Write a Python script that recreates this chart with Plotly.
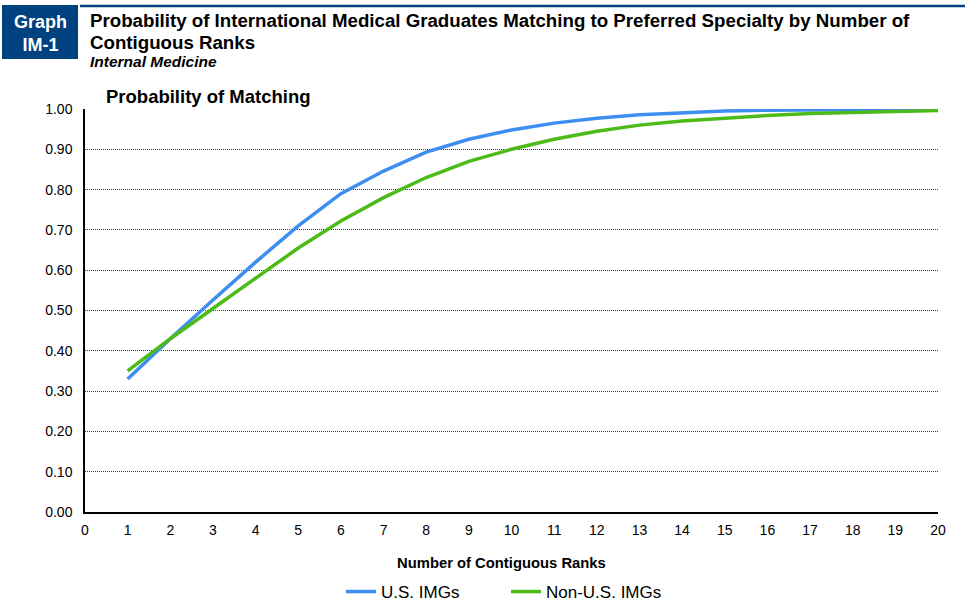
import plotly.graph_objects as go

ranks = list(range(1, 21))
us_imgs = [0.33, 0.43, 0.526, 0.62, 0.71, 0.79, 0.846, 0.893, 0.925, 0.948,
           0.965, 0.977, 0.986, 0.991, 0.995, 0.997, 0.998, 0.999, 0.999, 1.0]
non_us_imgs = [0.35, 0.43, 0.505, 0.58, 0.655, 0.722, 0.78, 0.83, 0.87, 0.90,
               0.925, 0.945, 0.96, 0.97, 0.978, 0.984, 0.989, 0.992, 0.994, 0.996]
x_ticks = list(range(0, 21))
y_ticks = [i / 10 for i in range(0, 11)]

fig = go.Figure()
fig.add_trace(go.Scatter(x=ranks, y=us_imgs, mode="lines", name="U.S. IMGs",
                         line=dict(color="#3d8ef0", width=3.5)))
fig.add_trace(go.Scatter(x=ranks, y=non_us_imgs, mode="lines", name="Non-U.S. IMGs",
                         line=dict(color="#4cbb17", width=3.5)))

font_family = "Liberation Sans, Arial, sans-serif"
L, R, T, B = 85, 27, 109, 95
PW = 965 - L - R
PH = 607 - T - B


def px_x(x):
    return (x - L) / PW


def px_y(y):
    return 1 - (y - T) / PH


fig.update_layout(
    width=965, height=607,
    margin=dict(l=L, r=R, t=T, b=B, autoexpand=False),
    paper_bgcolor="white", plot_bgcolor="white",
    font=dict(family=font_family, size=14, color="black"),
    showlegend=True,
    legend=dict(orientation="h", x=px_x(341), xanchor="left", y=px_y(592), yanchor="middle",
                font=dict(size=17, color="black"),
                traceorder="normal", entrywidthmode="pixels", entrywidth=120),
    xaxis=dict(range=[0, 20], tickvals=x_ticks, ticktext=[str(v) for v in x_ticks],
               showgrid=False, showline=True, linecolor="black", linewidth=1.5,
               ticks="", zeroline=False, tickfont=dict(size=14), automargin=False,
               ticklabelstandoff=4),
    yaxis=dict(range=[0, 1.0], tickvals=y_ticks, ticktext=[f"{v:.2f}" for v in y_ticks],
               showgrid=True, gridcolor="#3a3a3a", griddash="1px,1px", gridwidth=1,
               showline=True, linecolor="black", linewidth=1.5, automargin=False,
               ticks="", zeroline=False, tickfont=dict(size=14), ticklabelstandoff=8),
)

# Header box and top rule
fig.add_shape(type="rect", xref="paper", yref="paper",
              x0=px_x(2), x1=px_x(78), y0=px_y(59), y1=px_y(5),
              fillcolor="#00427f", line=dict(width=0), layer="above")
fig.add_shape(type="line", xref="paper", yref="paper",
              x0=px_x(80), x1=px_x(965), y0=px_y(6), y1=px_y(6),
              line=dict(color="#00427f", width=2.5))
fig.add_annotation(xref="paper", yref="paper", x=px_x(40), y=px_y(33),
                   text="<b>Graph<br>IM-1</b>", showarrow=False, align="center",
                   font=dict(size=18, color="white", family=font_family),
                   xanchor="center", yanchor="middle")
fig.add_annotation(xref="paper", yref="paper", x=px_x(88), y=px_y(21),
                   text="<b>Probability of International Medical Graduates Matching to Preferred Specialty by Number of</b>",
                   showarrow=False, align="left", xanchor="left", yanchor="middle",
                   font=dict(size=18.7, color="black", family=font_family))
fig.add_annotation(xref="paper", yref="paper", x=px_x(88), y=px_y(42),
                   text="<b>Contiguous Ranks</b>",
                   showarrow=False, align="left", xanchor="left", yanchor="middle",
                   font=dict(size=18.7, color="black", family=font_family))
fig.add_annotation(xref="paper", yref="paper", x=px_x(88), y=px_y(62),
                   text="<b><i>Internal Medicine</i></b>",
                   showarrow=False, align="left", xanchor="left", yanchor="middle",
                   font=dict(size=15.5, color="black", family=font_family))
fig.add_annotation(xref="paper", yref="paper", x=px_x(104), y=px_y(97),
                   text="<b>Probability of Matching</b>",
                   showarrow=False, align="left", xanchor="left", yanchor="middle",
                   font=dict(size=18.5, color="black", family=font_family))
fig.add_annotation(xref="paper", yref="paper", x=px_x(501), y=px_y(563),
                   text="<b>Number of Contiguous Ranks</b>",
                   showarrow=False, align="center", xanchor="center", yanchor="middle",
                   font=dict(size=14.8, color="black", family=font_family))

fig.write_html("out.html", config={"displayModeBar": False},
               post_script="document.body.style.margin='0';")
